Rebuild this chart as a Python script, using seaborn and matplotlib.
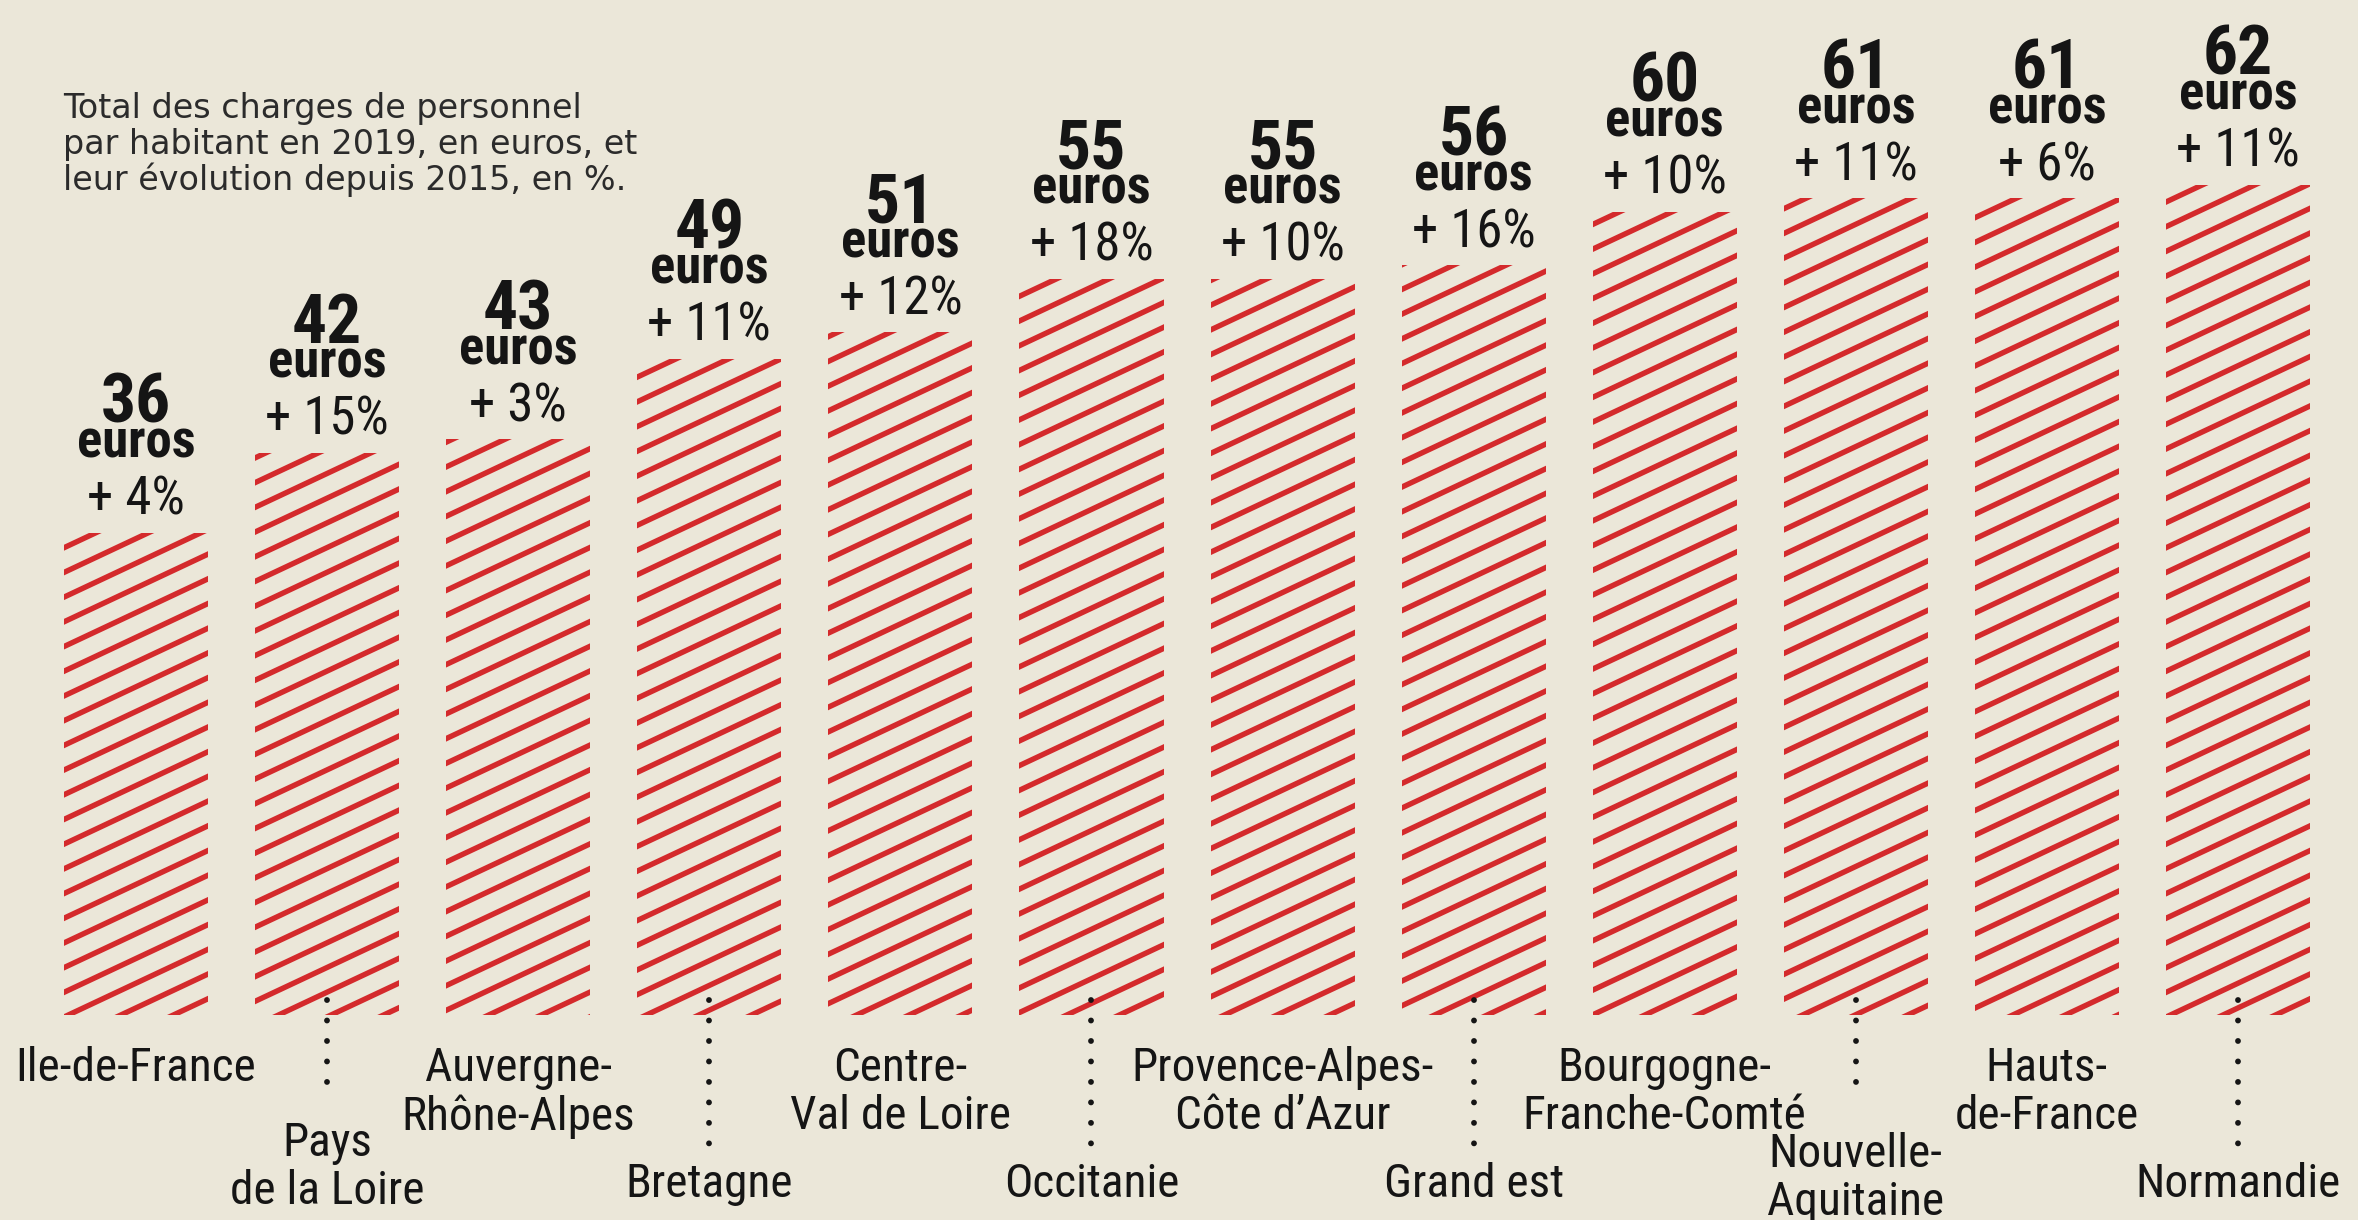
import numpy as np
import pandas as pd
import matplotlib
matplotlib.use("Agg")
import matplotlib.pyplot as plt
from matplotlib import font_manager
from matplotlib.collections import LineCollection
from matplotlib.transforms import IdentityTransform
import seaborn as sns

# ---- data -------------------------------------------------------------
regions = [
    "Ile-de-France", "Pays\nde la Loire", "Auvergne-\nRhône-Alpes", "Bretagne",
    "Centre-\nVal de Loire", "Occitanie", "Provence-Alpes-\nCôte d’Azur", "Grand est",
    "Bourgogne-\nFranche-Comté", "Nouvelle-\nAquitaine", "Hauts-\nde-France", "Normandie",
]
euros_par_habitant = [36, 42, 43, 49, 51, 55, 55, 56, 60, 61, 61, 62]
evolution_pct = [4, 15, 3, 11, 12, 18, 10, 16, 10, 11, 6, 11]
subtitle_lines = [
    "Total des charges de personnel",
    "par habitant en 2019, en euros, et",
    "leur évolution depuis 2015, en %.",
]

# ---- style ------------------------------------------------------------
W, H, DPI = 2358, 1220, 100
BG = "#ebe7d9"
RED = "#d42a2c"
INK = "#151515"

sns.set_style("white")


def pick_condensed():
    """Find a narrow sans family; returns (family, stretch, width factor vs Arial)."""
    entries = font_manager.fontManager.ttflist
    names = {f.name for f in entries}
    prefs = [("Roboto Condensed", 0.91), ("Liberation Sans Narrow", 0.82),
             ("Noto Sans Condensed", 0.86), ("Open Sans Condensed", 0.80),
             ("Noto Sans SemiCondensed", 0.93), ("DejaVu Sans Condensed", 1.0)]
    for name, factor in prefs:
        if name in names:
            return name, "normal", factor
    for f in entries:
        if f.stretch in ("condensed", "extra-condensed", "semi-condensed"):
            factor = {"DejaVu Sans": 1.0, "Noto Sans": 0.86}.get(f.name, 0.9)
            return f.name, f.stretch, factor
    return "Liberation Sans", "normal", 1.0


NARROW, NARROW_STRETCH, NARROW_W = pick_condensed()
SANS = "Liberation Sans"
if NARROW_W < 0.95:
    NUM_FONT, NUM_SIZE = NARROW, 50
    PCT_FONT, PCT_SIZE = NARROW, 38
else:
    NUM_FONT, NUM_SIZE = SANS, 48
    PCT_FONT, PCT_SIZE = SANS, 34
EUROS_SIZE = min(38, 34.5 / NARROW_W)
CAT_SIZE = min(38, 31 / NARROW_W)

BASE_PX = 1015          # pixel row of the bars' baseline
PX_PER_UNIT = 13.39     # vertical pixels per euro
X_LEFT, X_RIGHT = -0.712, 11.628

# top of the region names (pixel rows); the lower row hangs under dotted leaders
UPPER_TOP_PX = 1046
LOWER_TOP_PX = {"Pays\nde la Loire": 1121, "Nouvelle-\nAquitaine": 1132}
LOWER_SINGLE_TOP_PX = 1162


def y_at(px):
    """Data y for a pixel row measured from the top of the figure."""
    return (BASE_PX - px) / PX_PER_UNIT


fig = plt.figure(figsize=(W / DPI, H / DPI), dpi=DPI, facecolor=BG)
ax = fig.add_axes([0, (H - BASE_PX) / H, 1, BASE_PX / H])

df = pd.DataFrame({"region": regions, "euros": euros_par_habitant,
                   "evolution": evolution_pct})
sns.barplot(data=df, x="region", y="euros", ax=ax, color=BG, saturation=1,
            width=0.754, edgecolor="none", linewidth=0)
ax.set_xlim(X_LEFT, X_RIGHT)
ax.set_ylim(0, BASE_PX / PX_PER_UNIT)
ax.axis("off")

# ---- diagonal red stripes inside each bar -----------------------------
STRIPE_GAP = 24.7     # vertical distance between stripes, px
STRIPE_SLOPE = 0.47   # rise per px
STRIPE_LW = 3.9       # pt
for bar in list(ax.patches):
    (x0, y0) = ax.transData.transform((bar.get_x(), bar.get_y()))
    (x1, y1) = ax.transData.transform((bar.get_x() + bar.get_width(),
                                       bar.get_y() + bar.get_height()))
    c_lo = y0 - STRIPE_SLOPE * x1 - STRIPE_GAP
    c_hi = y1 - STRIPE_SLOPE * x0 + STRIPE_GAP
    ks = np.arange(np.floor(c_lo / STRIPE_GAP), np.ceil(c_hi / STRIPE_GAP) + 1)
    segs = [[(x0 - 4, STRIPE_SLOPE * (x0 - 4) + k * STRIPE_GAP),
             (x1 + 4, STRIPE_SLOPE * (x1 + 4) + k * STRIPE_GAP)] for k in ks]
    lc = LineCollection(segs, colors=RED, linewidths=STRIPE_LW,
                        transform=IdentityTransform(), capstyle="butt")
    ax.add_collection(lc, autolim=False)
    lc.set_clip_path(bar)   # after add_collection, which would reset it

# ---- value labels above the bars --------------------------------------
for i, (val, pct) in enumerate(zip(euros_par_habitant, evolution_pct)):
    ax.annotate(f"{val}", (i, val), xytext=(0, 110), textcoords="offset pixels",
                ha="center", va="baseline", fontsize=NUM_SIZE, fontweight="bold",
                family=NUM_FONT, fontstretch=NARROW_STRETCH, color=INK)
    ax.annotate("euros", (i, val), xytext=(0, 75), textcoords="offset pixels",
                ha="center", va="baseline", fontsize=EUROS_SIZE, fontweight="bold",
                family=NARROW, fontstretch=NARROW_STRETCH, color=INK)
    ax.annotate(f"+ {pct}%", (i, val), xytext=(0, 18), textcoords="offset pixels",
                ha="center", va="baseline", fontsize=PCT_SIZE, family=PCT_FONT,
                fontstretch=NARROW_STRETCH, color=INK)

# ---- region names, alternating rows with dotted leaders ----------------
for i, name in enumerate(regions):
    two_lines = "\n" in name
    if i % 2 == 0:
        top_px = UPPER_TOP_PX
    else:
        end_px = 1100 if two_lines else 1145
        ax.plot([i, i], [y_at(1000), y_at(end_px)], color=INK, lw=4.2,
                linestyle=(0, (0.01, 3.5)), dash_capstyle="round",
                solid_capstyle="round", clip_on=False)
        top_px = LOWER_TOP_PX.get(name, LOWER_SINGLE_TOP_PX)
    ax.text(i, y_at(top_px), name, ha="center", va="top", fontsize=CAT_SIZE,
            family=NARROW, fontstretch=NARROW_STRETCH, color=INK,
            linespacing=1.12, clip_on=False)

# ---- subtitle ---------------------------------------------------------
for k, line in enumerate(subtitle_lines):
    fig.text(63 / W, 1 - (118 + 36 * k) / H, line, ha="left", va="baseline",
             fontsize=24, family="DejaVu Sans", color="#2b2b2b")

fig.savefig("out.png", dpi=DPI, facecolor=BG)
